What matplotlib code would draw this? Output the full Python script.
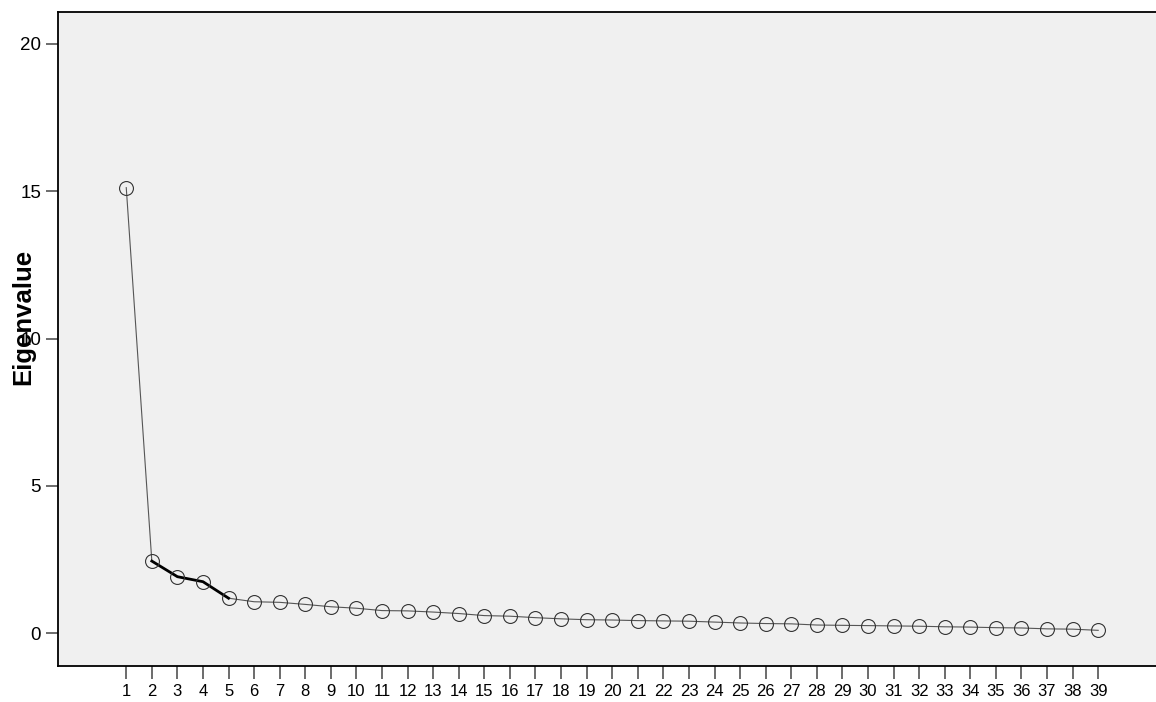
import matplotlib
matplotlib.use("Agg")
import matplotlib.pyplot as plt

plt.rcParams['font.family'] = ['Liberation Sans', 'DejaVu Sans']

components = list(range(1, 40))
eigenvalues = [15.12, 2.45, 1.92, 1.75, 1.19, 1.07, 1.05, 0.98, 0.90, 0.85,
               0.77, 0.76, 0.72, 0.67, 0.60, 0.58, 0.53, 0.49, 0.46, 0.45,
               0.43, 0.42, 0.41, 0.38, 0.35, 0.33, 0.32, 0.28, 0.27, 0.26,
               0.25, 0.24, 0.22, 0.21, 0.19, 0.18, 0.15, 0.14, 0.10]
y_ticks = [0, 5, 10, 15, 20]
y_label = "Eigenvalue"

fig = plt.figure(figsize=(11.56, 7.02), dpi=100)
ax = fig.add_axes([57.7 / 1156, 1 - 665.7 / 702, 1 - 57.7 / 1156, (665.7 - 11.7) / 702])
ax.set_facecolor('#f0f0f0')

ax.plot(components, eigenvalues, color='#555555', lw=0.8, zorder=2)
ax.plot(components[1:5], eigenvalues[1:5], color='black', lw=2.0, zorder=3)
ax.plot(components, eigenvalues, linestyle='none', marker='o', markersize=10,
        markerfacecolor='none', markeredgecolor='#333333', markeredgewidth=0.8, zorder=4)

ax.set_xlim(-1.68, 41.26)
ax.set_ylim(-1.10, 21.09)
ax.set_xticks(components)
ax.set_xticklabels([str(c) for c in components])
ax.set_yticks(y_ticks)
ax.set_yticklabels([str(t) for t in y_ticks])

for s in ['left', 'top', 'bottom']:
    ax.spines[s].set_color('black')
    ax.spines[s].set_linewidth(1.3)
ax.spines['right'].set_visible(False)

ax.tick_params(axis='both', direction='out', length=9, width=1.1, color='#444444',
               labelcolor='black')
ax.tick_params(axis='x', labelsize=12, pad=4)
ax.tick_params(axis='y', labelsize=13.5, pad=3)

fig.text(23 / 1156, 1 - 317 / 702, y_label, rotation=90, fontsize=18.5,
         fontweight='bold', ha='center', va='center')

fig.savefig('out.png', dpi=100, facecolor='white')
